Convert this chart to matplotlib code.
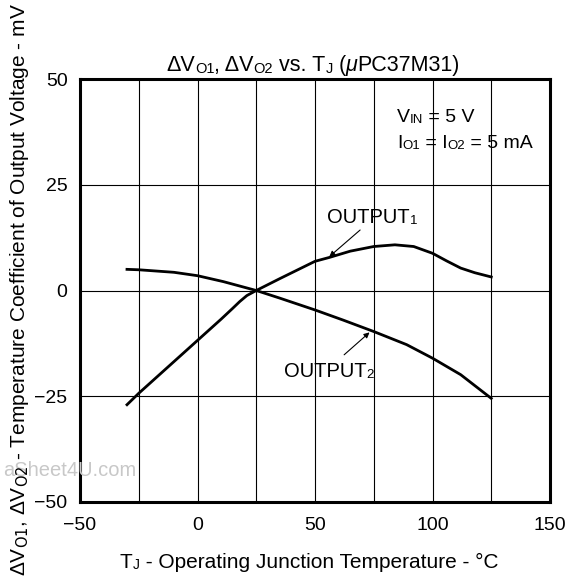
import matplotlib
matplotlib.use('Agg')
import matplotlib.pyplot as plt

# temperature (deg C) vs delta V (mV)
out1_t = [-30, -25, -10, 0, 10, 15, 18, 21, 25, 35, 50, 56, 65, 75, 84, 92, 100, 106, 112, 118, 125]
out1_v = [-27, -24.3, -16.8, -11.8, -6.8, -4.2, -2.6, -1.2, 0, 2.8, 6.9, 7.8, 9.3, 10.4, 10.8, 10.4, 8.8, 7.0, 5.3, 4.2, 3.2]

out2_t = [-30, -25, -10, 0, 11, 25, 35, 50, 62, 75, 89, 100, 112, 125]
out2_v = [5.0, 4.9, 4.3, 3.5, 2.1, 0, -1.8, -4.6, -7.0, -9.7, -12.8, -16.0, -19.9, -25.5]

x_ticks = [-50, 0, 50, 100, 150]
y_ticks = [-50, -25, 0, 25, 50]
x_grid = [-25, 0, 25, 50, 75, 100, 125]
y_grid = [-25, 0, 25]

W, H = 569, 579
BIG = 14
SMALL = 9.5

plt.rcParams['font.family'] = ['Liberation Sans', 'DejaVu Sans']
plt.rcParams['mathtext.fontset'] = 'custom'
plt.rcParams['mathtext.rm'] = 'Liberation Sans'
plt.rcParams['mathtext.default'] = 'regular'

fig = plt.figure(figsize=(W / 100, H / 100), dpi=100)
ax = fig.add_axes([80 / W, 1 - 502 / H, 470 / W, 423 / H])


def rich(x, y, parts, size=BIG, small_size=SMALL):
    # parts: (text, small?) pieces written one after another on a baseline
    # x, y are pixels from the top-left corner of the figure
    s, small = parts[0]
    t = fig.text(x / W, 1 - y / H, s, fontsize=small_size if small else size,
                 ha='left', va='baseline')
    for s, small in parts[1:]:
        t = ax.annotate(s, xy=(1, 0), xycoords=t, ha='left', va='bottom',
                        fontsize=small_size if small else size,
                        fontstyle='italic' if s == '\u03bc' else 'normal')
    return t


# watermark from the scanned sheet
fig.text(136 / W, 1 - 470 / H, 'aSheet4U.com', color='#c8c8c8',
         fontsize=14.5, ha='right', va='center', zorder=0)

for g in x_grid:
    ax.axvline(g, color='black', lw=0.8, zorder=1)
for g in y_grid:
    ax.axhline(g, color='black', lw=0.8, zorder=1)

ax.plot(out1_t, out1_v, color='black', lw=2.0, zorder=3)
ax.plot(out2_t, out2_v, color='black', lw=2.0, zorder=3)

arrow = dict(arrowstyle='-|>', color='black', lw=0.8, shrinkA=0, shrinkB=0,
             mutation_scale=8)
ax.annotate('', xy=(56.1, 8.0), xytext=(69.2, 14.3), arrowprops=arrow)
ax.annotate('', xy=(73.2, -9.9), xytext=(62.4, -15.2), arrowprops=arrow)

rich(327, 223, [('OUTPUT', False), ('1', True)], size=14.5)
rich(284, 377, [('OUTPUT', False), ('2', True)], size=14.5)
rich(397, 122, [('V', False), ('IN', True), (' = 5 V', False)])
rich(397, 148, [('I', False), ('O1', True), (' = I', False), ('O2', True),
                (' = 5 mA', False)])

rich(166, 71, [('\u0394V', False), ('O1', True), (', \u0394V', False),
               ('O2', True), (' vs. T', False), ('J', True), (' (', False),
               ('\u03bc', False), ('PC37M31)', False)],
     size=15.5, small_size=10.5)
rich(120, 568, [('T', False), ('J', True),
                (' - Operating Junction Temperature - \u00b0C', False)],
     size=15, small_size=10)

fig.text(20 / W, 1 - 290 / H,
         r'$\Delta$V$_{\mathsf{O1}}$, $\Delta$V$_{\mathsf{O2}}$ - Temperature Coefficient of Output Voltage - mV',
         rotation=90, fontsize=15, ha='center', va='center')

ax.set_xlim(-50, 150)
ax.set_ylim(-50, 50)
ax.set_xticks(x_ticks)
ax.set_yticks(y_ticks)
ax.tick_params(length=0, labelsize=BIG)
ax.tick_params(axis='x', pad=11)
ax.tick_params(axis='y', pad=9)
for sp in ax.spines.values():
    sp.set_linewidth(2.2)

fig.savefig('out.png', dpi=100)
